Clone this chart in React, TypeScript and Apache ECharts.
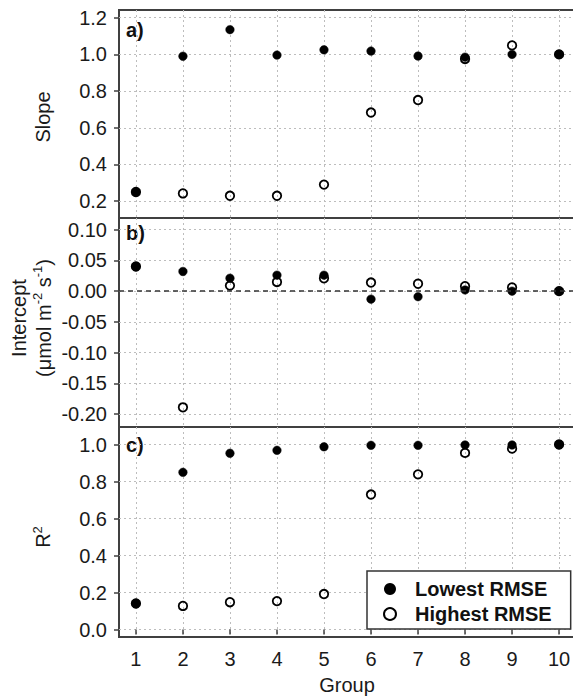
import React, { useEffect, useRef } from "react";
import * as echarts from "echarts";

const groups = [1, 2, 3, 4, 5, 6, 7, 8, 9, 10];
const slopeLowest = [0.25, 0.99, 1.135, 0.996, 1.025, 1.018, 0.991, 0.985, 1.0, 1.0];
const slopeHighest = [0.25, 0.242, 0.229, 0.229, 0.29, 0.683, 0.751, 0.975, 1.049, 1.0];
const interceptLowest = [0.04, 0.032, 0.021, 0.026, 0.026, -0.013, -0.009, 0.002, 0.0, 0.0];
const interceptHighest = [0.04, -0.189, 0.009, 0.015, 0.021, 0.014, 0.012, 0.008, 0.006, 0.0];
const r2Lowest = [0.141, 0.85, 0.953, 0.969, 0.988, 0.996, 0.996, 0.998, 0.998, 1.0];
const r2Highest = [0.141, 0.128, 0.148, 0.154, 0.192, 0.73, 0.839, 0.955, 0.978, 1.0];

const slopeTicks = [0.2, 0.4, 0.6, 0.8, 1.0, 1.2];
const interceptTicks = [-0.2, -0.15, -0.1, -0.05, 0, 0.05, 0.1];
const r2Ticks = [0, 0.2, 0.4, 0.6, 0.8, 1.0];

const LOW = "Lowest RMSE";
const HIGH = "Highest RMSE";

const FONT = '"Liberation Sans", Arial, sans-serif';
const TXT = "#1a1a1a";
const FRAME = "#404040";

export default function App() {
  const ref = useRef<HTMLDivElement>(null);
  useEffect(() => {
    if (!ref.current) return;
    const chart = echarts.init(ref.current, undefined, { renderer: "svg" });

    const grids = [
      { left: 119, width: 457, top: 10, height: 208 },
      { left: 119, width: 457, top: 218, height: 209 },
      { left: 119, width: 457, top: 427, height: 210 },
    ].map((g) => ({
      ...g,
      show: true,
      borderColor: FRAME,
      borderWidth: 2,
      backgroundColor: "transparent",
      containLabel: false,
      outerBoundsMode: "none",
    }));

    const splitLine = { show: true, lineStyle: { color: "#bdbdbd", width: 1, type: [2, 3] as any } };

    const xAxes = [0, 1, 2].map((i) => ({
      type: "value",
      gridIndex: i,
      min: 0.64,
      max: 10.36,
      axisLine: { show: false },
      axisTick: { show: i === 2, customValues: groups, inside: false, length: 5, lineStyle: { color: FRAME, width: 1.5 } },
      axisLabel: {
        show: i === 2,
        customValues: groups,
        margin: 12,
        fontSize: 20,
        fontFamily: FONT,
        color: TXT,
      },
      splitLine,
    }));

    const yAxisCommon = (i: number, min: number, max: number, ticks: number[], digits: number) => ({
      type: "value",
      gridIndex: i,
      min,
      max,
      axisLine: { show: false },
      axisTick: { show: true, customValues: ticks, length: 5, lineStyle: { color: FRAME, width: 1.5 } },
      axisLabel: {
        customValues: ticks,
        margin: 12,
        fontSize: 20,
        fontFamily: FONT,
        color: TXT,
        formatter: (v: number) => v.toFixed(digits),
      },
      splitLine,
    });

    const yAxes = [
      yAxisCommon(0, 0.108, 1.242, slopeTicks, 1),
      yAxisCommon(1, -0.221, 0.119, interceptTicks, 2),
      yAxisCommon(2, -0.04, 1.095, r2Ticks, 1),
    ];

    const filled = (name: string, idx: number, vals: number[], extra: any = {}) => ({
      type: "scatter",
      name,
      xAxisIndex: idx,
      yAxisIndex: idx,
      symbol: "circle",
      symbolSize: 8.5,
      itemStyle: { color: "#000", borderColor: "#000", borderWidth: 0.5, opacity: 1 },
      data: groups.map((g, i) => [g, vals[i]]),
      z: 3,
      ...extra,
    });
    const open = (name: string, idx: number, vals: number[]) => ({
      type: "scatter",
      name,
      xAxisIndex: idx,
      yAxisIndex: idx,
      symbol: "circle",
      symbolSize: 8.5,
      itemStyle: { color: "transparent", borderColor: "#000", borderWidth: 1.8, opacity: 1 },
      data: groups.map((g, i) => [g, vals[i]]),
      z: 4,
    });

    const series: any[] = [
      filled(LOW, 0, slopeLowest),
      open(HIGH, 0, slopeHighest),
      filled(LOW, 1, interceptLowest, {
        markLine: {
          silent: true,
          symbol: ["none", "none"],
          label: { show: false },
          lineStyle: { color: "#333", type: [5, 4], width: 1.5 },
          data: [{ yAxis: 0 }],
        },
      }),
      open(HIGH, 1, interceptHighest),
      filled(LOW, 2, r2Lowest),
      open(HIGH, 2, r2Highest),
    ];

    const titleStyle = { font: `20px ${FONT}`, fill: TXT, align: "center", verticalAlign: "middle" };
    const supRich = {
      n: { fontSize: 20, fontFamily: FONT, fill: TXT, color: TXT, lineHeight: 25 },
      s: { fontSize: 13, fontFamily: FONT, fill: TXT, color: TXT, lineHeight: 25, verticalAlign: "top" },
    };

    const option: any = {
      animation: false,
      backgroundColor: "#fff",
      grid: grids,
      xAxis: xAxes,
      yAxis: yAxes,
      series,
      legend: {
        orient: "vertical",
        left: 367,
        top: 571,
        padding: [8, 19, 5, 16],
        itemWidth: 40,
        itemHeight: 12,
        itemGap: 5,
        borderColor: "#333",
        borderWidth: 1.5,
        borderRadius: 0,
        backgroundColor: "#fff",
        textStyle: { fontSize: 20, fontWeight: "bold", fontFamily: FONT, color: "#111", lineHeight: 20 },
        data: [
          { name: LOW, icon: "circle", itemStyle: { color: "#000", borderWidth: 0 } },
          { name: HIGH, icon: "circle", itemStyle: { color: "transparent", borderColor: "#000", borderWidth: 2 } },
        ],
      },
      graphic: [
        { type: "text", x: 126, y: 30, style: { text: "a)", font: `bold 20px ${FONT}`, fill: "#111", verticalAlign: "middle" } },
        { type: "text", x: 126, y: 233, style: { text: "b)", font: `bold 20px ${FONT}`, fill: "#111", verticalAlign: "middle" } },
        { type: "text", x: 126, y: 445, style: { text: "c)", font: `bold 20px ${FONT}`, fill: "#111", verticalAlign: "middle" } },
        { type: "text", x: 43, y: 117, rotation: Math.PI / 2, style: { ...titleStyle, text: "Slope" } },
        {
          type: "text",
          x: 31,
          y: 318,
          rotation: Math.PI / 2,
          style: {
            text: "{n|Intercept}\n{n|(μmol m}{s|-2}{n| s}{s|-1}{n|)}",
            rich: supRich,
            align: "center",
            verticalAlign: "middle",
            font: `20px ${FONT}`,
            fill: TXT,
          },
        },
        {
          type: "text",
          x: 43,
          y: 537,
          rotation: Math.PI / 2,
          style: { text: "{n|R}{s|2}", rich: supRich, align: "center", verticalAlign: "middle", font: `20px ${FONT}`, fill: TXT },
        },
        { type: "text", x: 347, y: 685, style: { ...titleStyle, text: "Group" } },
      ],
    };

    chart.setOption(option);
    return () => chart.dispose();
  }, []);

  return (
    <div
      ref={ref}
      style={{ position: "absolute", left: 0, top: 0, width: 573, height: 696, background: "#fff" }}
    />
  );
}
